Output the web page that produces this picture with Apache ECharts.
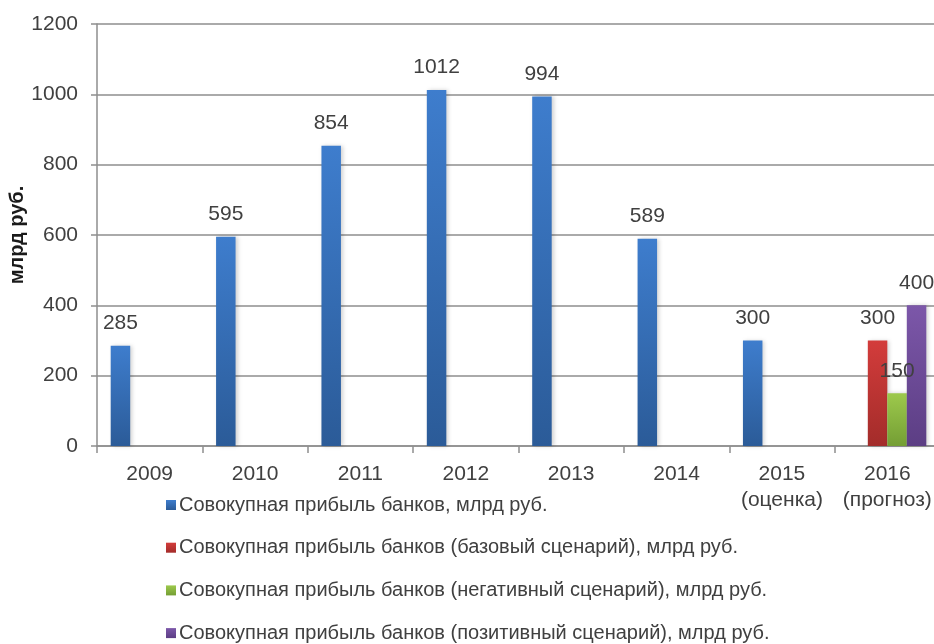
<!DOCTYPE html>
<html>
<head>
<meta charset="utf-8">
<style>
  html, body { margin: 0; padding: 0; background: #fff; }
  #chart { width: 934px; height: 644px; }
</style>
<script src="https://cdn.jsdelivr.net/npm/echarts@6.0.0/dist/echarts.min.js"></script>
</head>
<body>
<div id="chart"></div>
<script>
const years = ["2009", "2010", "2011", "2012", "2013", "2014", "2015\n(оценка)", "2016\n(прогноз)"];
const profitActual = [285, 595, 854, 1012, 994, 589, 300, null];
const profitBase = [null, null, null, null, null, null, null, 300];
const profitNegative = [null, null, null, null, null, null, null, 150];
const profitPositive = [null, null, null, null, null, null, null, 400];
const seriesNames = [
  "Совокупная прибыль банков, млрд руб.",
  "Совокупная прибыль банков (базовый сценарий), млрд руб.",
  "Совокупная прибыль банков (негативный сценарий), млрд руб.",
  "Совокупная прибыль банков (позитивный сценарий), млрд руб."
];

const font = "'Liberation Sans', Arial, sans-serif";
const gridColor = "#8e8e8e";
const textColor = "#404040";

// вертикальный градиент: сверху светлее, снизу темнее
function grad(top, bottom) {
  return new echarts.graphic.LinearGradient(0, 0, 0, 1, [
    { offset: 0, color: top },
    { offset: 1, color: bottom }
  ]);
}

const palette = [
  ["#3e7dcd", "#2b5b98"],
  ["#d33c3b", "#a32c2a"],
  ["#9dc94c", "#749e34"],
  ["#7c57a9", "#5c3e84"]
];

function makeSeries(name, data, idx) {
  return {
    name: name,
    type: "bar",
    data: data,
    barGap: 0,
    barCategoryGap: "26%",
    itemStyle: {
      color: grad(palette[idx][0], palette[idx][1]),
      shadowColor: "rgba(0,0,0,0.18)",
      shadowBlur: 4,
      shadowOffsetX: 2
    },
    label: {
      show: true,
      position: "top",
      distance: 12,
      color: textColor,
      fontSize: 21,
      fontFamily: font
    }
  };
}

// легенда по одной строке, чтобы не переносилась во второй столбец
const legends = seriesNames.map((name, i) => ({
  orient: "vertical",
  left: 166,
  top: 495 + i * 42.7,
  padding: 0,
  icon: "rect",
  itemWidth: 10,
  itemHeight: 10,
  textStyle: {
    color: textColor,
    fontSize: 20,
    fontFamily: font,
    padding: [0, 0, 0, -2]
  },
  data: [name]
}));

const chart = echarts.init(document.getElementById("chart"), null, { renderer: "canvas" });

chart.setOption({
  backgroundColor: "#fff",
  animation: false,
  textStyle: { fontFamily: font },
  grid: {
    left: 97,
    right: -6,
    top: 24,
    bottom: 198,
    containLabel: false,
    outerBoundsMode: "none"
  },
  legend: legends,
  xAxis: {
    type: "category",
    data: years,
    axisLine: { lineStyle: { color: gridColor, width: 1.5 } },
    axisTick: {
      show: true,
      interval: 0,
      length: 7,
      lineStyle: { color: gridColor, width: 1.5 }
    },
    axisLabel: {
      interval: 0,
      margin: 15,
      color: textColor,
      fontSize: 21,
      lineHeight: 26,
      fontFamily: font
    }
  },
  yAxis: {
    type: "value",
    min: 0,
    max: 1200,
    interval: 200,
    name: "млрд руб.",
    nameLocation: "middle",
    nameGap: 70,
    nameMoveOverlap: false,
    nameTextStyle: {
      color: "#1a1a1a",
      fontSize: 20,
      fontWeight: "bold",
      fontFamily: font
    },
    axisLine: { show: true, lineStyle: { color: gridColor, width: 1.5 } },
    axisTick: { show: true, length: 6, lineStyle: { color: gridColor, width: 1.5 } },
    axisLabel: {
      margin: 19,
      color: textColor,
      fontSize: 21,
      fontFamily: font,
      formatter: function (v) { return String(v); }
    },
    splitLine: { lineStyle: { color: gridColor, width: 1.5 } }
  },
  series: [
    makeSeries(seriesNames[0], profitActual, 0),
    makeSeries(seriesNames[1], profitBase, 1),
    makeSeries(seriesNames[2], profitNegative, 2),
    makeSeries(seriesNames[3], profitPositive, 3)
  ]
});
</script>
</body>
</html>
